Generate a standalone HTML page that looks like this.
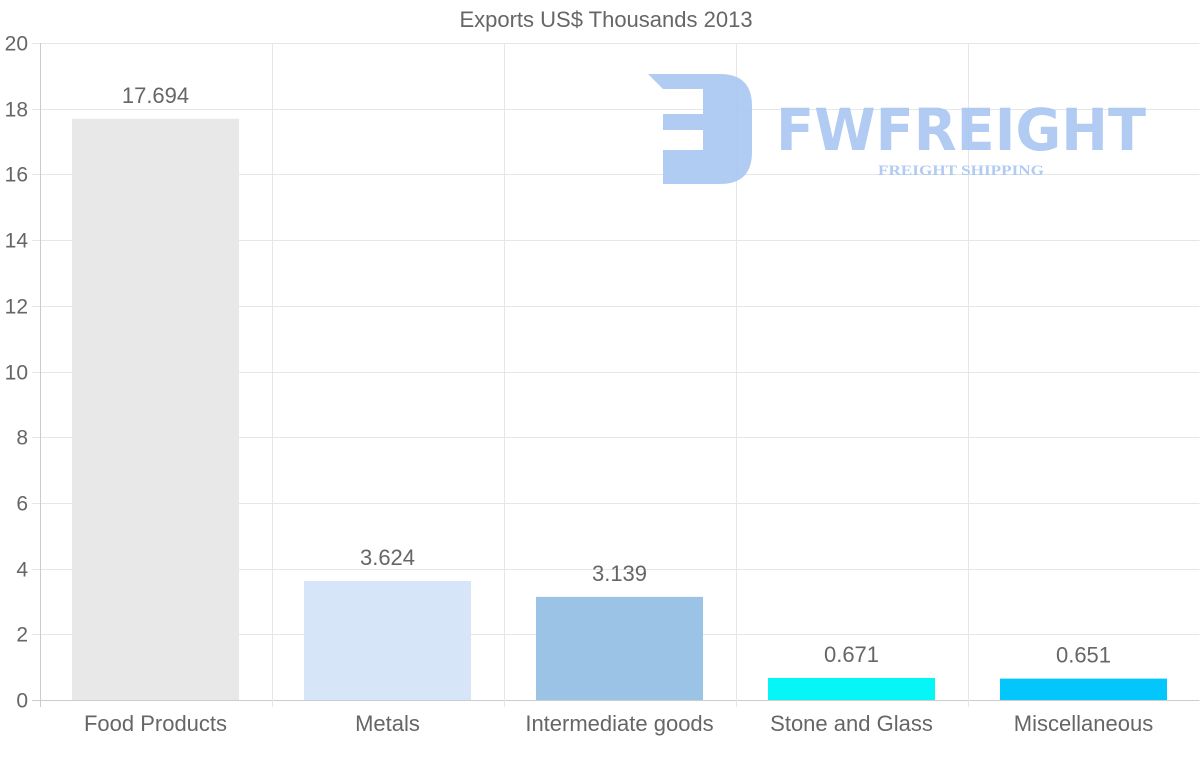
<!DOCTYPE html>
<html><head><meta charset="utf-8"><style>
body{margin:0;background:#fff;}
svg{display:block;font-family:"Liberation Sans",sans-serif;}
</style></head><body>
<svg id="chart" width="1200" height="763">
<text x="606" y="27" font-size="22" fill="#666" text-anchor="middle">Exports US$ Thousands 2013</text>
<g id="grid"></g>
<g id="logo" fill="#a9c6f2" opacity="0.9">
<path d="M648,74 H720 Q752,74 752,106 V152 Q752,184 720,184 H663 V150 H703 V130 H663 V114 H703 V89 H663 Z"/>
<text x="776" y="150" font-size="58" font-weight="bold" font-family="'DejaVu Sans',sans-serif" textLength="370" lengthAdjust="spacingAndGlyphs">FWFREIGHT</text>
<text x="961" y="175" font-size="15" font-weight="bold" font-family="'Liberation Serif',serif" text-anchor="middle" textLength="166" lengthAdjust="spacingAndGlyphs">FREIGHT SHIPPING</text>
</g>
<g id="bars"></g>
</svg>
<script>
const categories=["Food Products","Metals","Intermediate goods","Stone and Glass","Miscellaneous"];
const values=[17.694,3.624,3.139,0.671,0.651];
const labels=["17.694","3.624","3.139","0.671","0.651"];
const colors=["#e8e8e8","#d6e6f8","#9ac3e6","#06f5f7","#02c6fc"];
const yTicks=[0,2,4,6,8,10,12,14,16,18,20];
const NS="http://www.w3.org/2000/svg";
const x0=39.5,x1=1199.5,yTop=43,yBot=700,yMax=20;
const cw=(x1-x0)/categories.length;
const ys=v=>yBot-(v/yMax)*(yBot-yTop);
const xs=i=>x0+cw*i;
function mk(t,a,p){const e=document.createElementNS(NS,t);for(const k in a)e.setAttribute(k,a[k]);p.appendChild(e);return e;}
const grid=document.getElementById('grid'),bars=document.getElementById('bars');
yTicks.forEach(t=>{const y=Math.round(ys(t))+0.5;
const l=mk('line',{x1:32,x2:x1,y1:y,y2:y,stroke:t===0?'#ccc':'#e6e6e6'},grid);


const tx=mk('text',{x:28,y:y+7,'font-size':21,fill:'#666','text-anchor':'end'},grid);tx.textContent=t;

});
for(let i=0;i<=categories.length;i++){const x=Math.round(xs(i))+0.5;
const l=mk('line',{x1:x,x2:x,y1:yTop,y2:yBot+7,stroke:i===0?'#ccc':'#e6e6e6'},grid);

}
categories.forEach((c,i)=>{const bw=cw*0.72,bx=xs(i)+(cw-bw)/2,y=ys(values[i]);
const r=mk('rect',{x:bx,y:y,width:bw,height:yBot-y,fill:colors[i]},bars);


const v=mk('text',{x:xs(i)+cw/2,y:y-16,'font-size':22,fill:'#666','text-anchor':'middle'},bars);v.textContent=labels[i];


const t=mk('text',{x:xs(i)+cw/2,y:731,'font-size':22,fill:'#666','text-anchor':'middle'},bars);t.textContent=c;

});
</script>
</body></html>
